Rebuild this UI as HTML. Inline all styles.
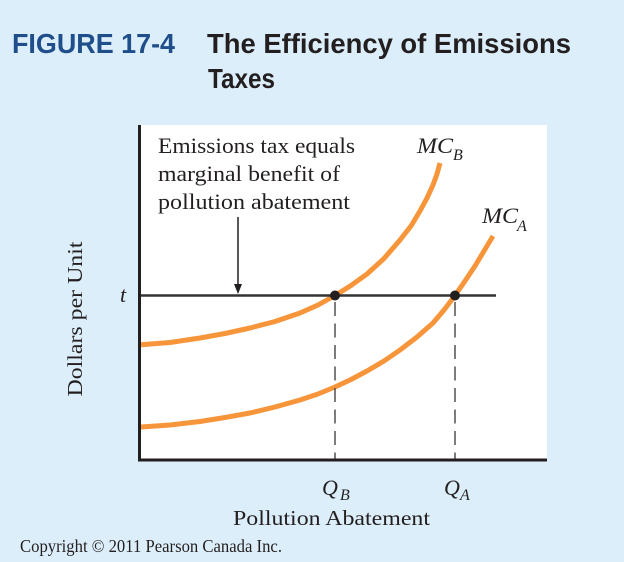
<!DOCTYPE html>
<html>
<head>
<meta charset="utf-8">
<style>
  html,body{margin:0;padding:0;background:#dceef9;}
  svg{display:block;}
</style>
</head>
<body>
<svg width="624" height="562" viewBox="0 0 624 562" xmlns="http://www.w3.org/2000/svg">
  <rect x="0" y="0" width="624" height="562" fill="#dceef9"/>

  <!-- Title -->
  <text x="12" y="53" font-family="Liberation Sans, sans-serif" font-weight="bold" font-size="28" fill="#1f4e8a" textLength="163" lengthAdjust="spacingAndGlyphs">FIGURE 17-4</text>
  <text x="207" y="53" font-family="Liberation Sans, sans-serif" font-weight="bold" font-size="28" fill="#231f20" textLength="364" lengthAdjust="spacingAndGlyphs">The Efficiency of Emissions</text>
  <text x="208" y="88" font-family="Liberation Sans, sans-serif" font-weight="bold" font-size="28" fill="#231f20" textLength="67" lengthAdjust="spacingAndGlyphs">Taxes</text>

  <!-- White plot panel -->
  <rect x="139" y="125" width="408" height="335" fill="#ffffff"/>

  <!-- Curves -->
  <polyline fill="none" stroke="#f7953b" stroke-width="5" stroke-linejoin="round" stroke-linecap="butt"
    points="141,344.8 170,342.5 200,338 225,333.5 250,328 275,321.5 300,313 318,305 335,295.5 351,285.5 367,274 384,258.5 400,240 411,226 420,211 427,198 433,185 437,174 440,163"/>
  <polyline fill="none" stroke="#f7953b" stroke-width="5" stroke-linejoin="round" stroke-linecap="butt"
    points="141,427 170,425 200,421.5 225,417.5 250,413 275,407 300,400 318,394 335,387 351,379.5 367,371 384,361 400,350 417,337 433,323 444,310 455,295.5 465,281 475,266 484,251 493,236"/>

  <!-- tax line -->
  <line x1="139" y1="295.5" x2="496" y2="295.5" stroke="#333333" stroke-width="2.5"/>

  <!-- dashed drop lines -->
  <line x1="335" y1="302" x2="335" y2="459" stroke="#444" stroke-width="1.4" stroke-dasharray="14 7.5"/>
  <line x1="455" y1="302" x2="455" y2="459" stroke="#444" stroke-width="1.4" stroke-dasharray="14 7.5"/>

  <!-- dots -->
  <circle cx="335" cy="295.5" r="5" fill="#231f20"/>
  <circle cx="455" cy="295.5" r="5" fill="#231f20"/>

  <!-- axes -->
  <line x1="139.5" y1="125" x2="139.5" y2="461.5" stroke="#231f20" stroke-width="3"/>
  <line x1="138" y1="460" x2="547" y2="460" stroke="#231f20" stroke-width="3"/>

  <!-- arrow -->
  <line x1="238" y1="217" x2="238" y2="288" stroke="#231f20" stroke-width="1.5"/>
  <polygon points="234,284 242,284 238,294" fill="#231f20"/>

  <!-- annotation -->
  <g font-family="Liberation Serif, serif" font-size="22" fill="#231f20">
    <text x="158" y="153" textLength="197" lengthAdjust="spacingAndGlyphs">Emissions tax equals</text>
    <text x="158" y="181" textLength="182" lengthAdjust="spacingAndGlyphs">marginal benefit of</text>
    <text x="158" y="209" textLength="192" lengthAdjust="spacingAndGlyphs">pollution abatement</text>
  </g>

  <!-- curve labels -->
  <g font-family="Liberation Serif, serif" font-style="italic" fill="#231f20">
    <text x="417" y="153" font-size="22" textLength="36" lengthAdjust="spacingAndGlyphs">MC</text>
    <text x="453" y="160" font-size="16">B</text>
    <text x="482" y="223" font-size="22" textLength="36" lengthAdjust="spacingAndGlyphs">MC</text>
    <text x="517" y="231" font-size="16">A</text>
    <text x="120" y="302" font-size="22">t</text>
    <text x="322" y="495" font-size="22">Q</text>
    <text x="340" y="500" font-size="16">B</text>
    <text x="444" y="495" font-size="22">Q</text>
    <text x="460" y="500" font-size="16">A</text>
  </g>

  <!-- axis titles -->
  <text x="233" y="525" font-family="Liberation Serif, serif" font-size="21" fill="#231f20" textLength="197" lengthAdjust="spacingAndGlyphs">Pollution Abatement</text>
  <text transform="translate(82,319) rotate(-90)" text-anchor="middle" font-family="Liberation Serif, serif" font-size="21" fill="#231f20" textLength="155" lengthAdjust="spacingAndGlyphs">Dollars per Unit</text>

  <!-- copyright -->
  <text x="20" y="552" font-family="Liberation Serif, serif" font-size="17.5" fill="#231f20" textLength="262" lengthAdjust="spacingAndGlyphs">Copyright © 2011 Pearson Canada Inc.</text>
</svg>
</body>
</html>
